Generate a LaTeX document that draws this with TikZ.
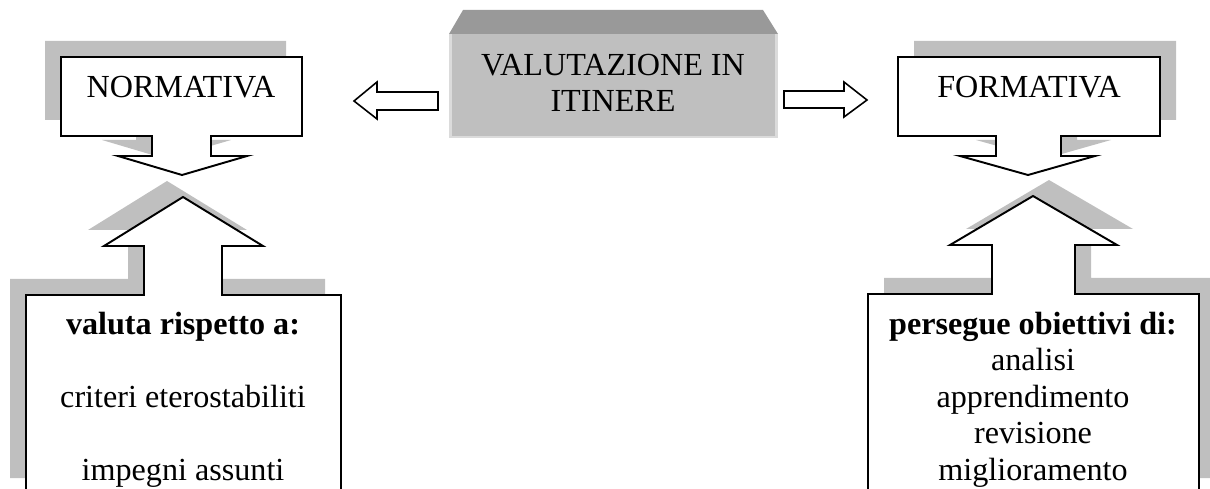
\documentclass[tikz,border=0pt]{standalone}
\usepackage{fontspec}
\setmainfont{Liberation Serif}
\begin{document}
\begin{tikzpicture}[
        x=0.02cm,
        y=-0.02cm,
        font=\fontsize{18.3pt}{20.7pt}\selectfont,
        shadowfill/.style={
            fill=black!25,
            draw=none
        },
        callout/.style={
            fill=white,
            draw=black,
            line width=1.1pt,
            line join=miter
        },
        blockarrow/.style={
            fill=white,
            draw=black,
            line width=0.9pt
        },
        caption/.style={
            inner sep=0pt,
            anchor=base,
            align=center
        }
    ]

    \clip (0,0) rectangle (1210,489);

    % central box with bevelled top
    \fill[black!25] (449,34) rectangle (778,138);
    \fill[black!14] (449,34) rectangle (452,138);
    \fill[black!14] (775,34) rectangle (778,138);
    \fill[black!14] (449,136) rectangle (778,138);
    \fill[black!40] (449,34) -- (463,10) -- (763,10) -- (778,34) -- cycle;
    % (base of a multi-line node = its last line)
    \node[caption] (itinere) at (613,111.7) {VALUTAZIONE IN\\ITINERE};

    % hollow arrows
    \draw[blockarrow] (438,92) -- (377,92) -- (377,82) -- (354,101)
        -- (377,119) -- (377,110) -- (438,110) -- cycle;
    \draw[blockarrow] (784,91) -- (844,91) -- (844,82) -- (867,100)
        -- (844,117) -- (844,108) -- (784,108) -- cycle;

    % left column
    \foreach \look/\dx/\dy in {shadowfill/-16/-16, callout/0/0}{
        \draw[\look, shift={(\dx,\dy)}] (61,57) -- (302,57) -- (302,136)
            -- (211,136) -- (211,156) -- (247,156) -- (182,175) -- (118,156)
            -- (152,156) -- (152,136) -- (61,136) -- cycle;
        \draw[\look, shift={(\dx,\dy)}] (26,494) -- (26,295) -- (144,295)
            -- (144,246) -- (104,246) -- (183,197) -- (263,246) -- (222,246)
            -- (222,295) -- (341,295) -- (341,494) -- cycle;
    }
    \node[caption] (normativa) at (181,97.7) {NORMATIVA};
    \node[caption] (valuta) at (183,480)
        {\textbf{valuta rispetto a:}\\[20.7pt]criteri eterostabiliti\\[20.7pt]impegni assunti};

    % right column
    \foreach \look/\dx/\dy in {shadowfill/16/-16, callout/0/0}{
        \draw[\look, shift={(\dx,\dy)}] (898,57) -- (1160,57) -- (1160,136)
            -- (1061,136) -- (1061,156) -- (1095,156) -- (1028,175) -- (960,156)
            -- (996,156) -- (996,136) -- (898,136) -- cycle;
        \draw[\look, shift={(\dx,\dy)}] (868,494) -- (868,294) -- (992,294)
            -- (992,245) -- (950,245) -- (1033,196) -- (1117,245) -- (1075,245)
            -- (1075,294) -- (1199,294) -- (1199,494) -- cycle;
    }
    \node[caption] (formativa) at (1029,97.7) {FORMATIVA};
    \node[caption] (persegue) at (1033,480)
        {\textbf{persegue obiettivi di:}\\analisi\\apprendimento\\revisione\\miglioramento};

\end{tikzpicture}
\end{document}
